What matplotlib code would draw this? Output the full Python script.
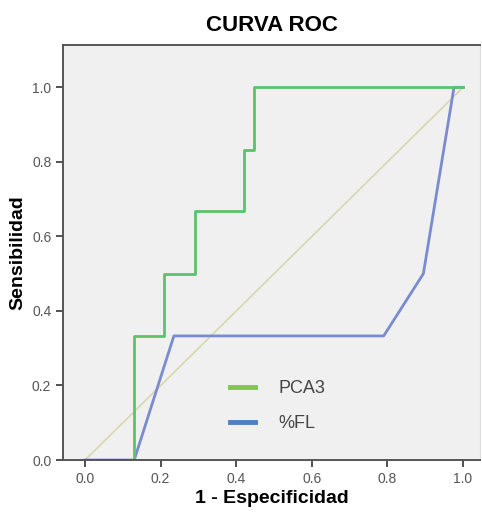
import matplotlib
matplotlib.use("Agg")
import matplotlib.pyplot as plt
from matplotlib.lines import Line2D

plt.rcParams["font.family"] = ["Liberation Sans", "DejaVu Sans"]

# PCA3 curve (1 - especificidad, sensibilidad)
pca3_x = [0.0, 0.13, 0.13, 0.21, 0.21, 0.29, 0.29, 0.42, 0.42, 0.448, 0.448, 1.0]
pca3_y = [0.0, 0.0, 0.333, 0.333, 0.5, 0.5, 0.667, 0.667, 0.833, 0.833, 1.0, 1.0]

# %FL curve
fl_x = [0.0, 0.13, 0.235, 0.79, 0.895, 0.976, 1.0]
fl_y = [0.0, 0.0, 0.333, 0.333, 0.5, 1.0, 1.0]

# reference line
ref_x = [0.0, 1.0]
ref_y = [0.0, 1.0]

labels = ["PCA3", "%FL"]
ticks = [0.0, 0.2, 0.4, 0.6, 0.8, 1.0]

fig = plt.figure(figsize=(4.82, 5.14), dpi=100)
ax = fig.add_axes([0.131, 0.105, 0.865, 0.807])
ax.set_facecolor("#f0f0f0")

ax.plot(ref_x, ref_y, color="#d6d8b0", lw=1.2)
ax.plot(fl_x, fl_y, color="#7b8bd0", lw=2)
ax.plot(pca3_x, pca3_y, color="#5ec26c", lw=2)

ax.set_xlim(-0.058, 1.045)
ax.set_ylim(0.0, 1.113)
ax.set_xticks(ticks)
ax.set_yticks(ticks)
ax.set_xticklabels(["%.1f" % t for t in ticks])
ax.set_yticklabels(["%.1f" % t for t in ticks])
ax.tick_params(direction="out", length=5, width=1.2, color="#333333",
               labelsize=10, labelcolor="#555555")

for side in ["left", "bottom", "top"]:
    ax.spines[side].set_color("#555555")
    ax.spines[side].set_linewidth(1.4)
ax.spines["right"].set_color("#dddddd")

ax.set_title("CURVA ROC", fontsize=16, fontweight="bold", pad=10)
ax.set_xlabel("1 - Especificidad", fontsize=14, fontweight="bold", labelpad=3)
ax.set_ylabel("Sensibilidad", fontsize=14, fontweight="bold", labelpad=4)

handles = [Line2D([0], [0], color="#7ec850", lw=3.5),
           Line2D([0], [0], color="#4f7fc0", lw=3.5)]
ax.legend(handles, labels, loc="center", bbox_to_anchor=(0.515, 0.13),
          frameon=False, fontsize=13, handlelength=1.4, handletextpad=1.3,
          labelspacing=1.0, labelcolor="#444444")

fig.savefig("out.png", dpi=100)
